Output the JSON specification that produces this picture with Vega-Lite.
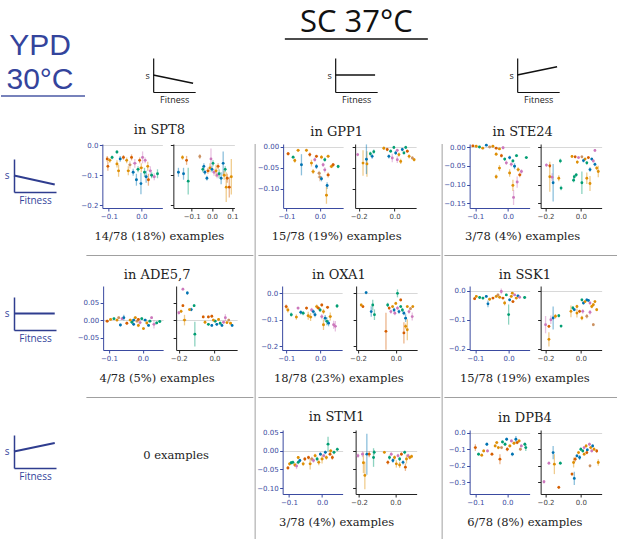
{
  "$schema": "https://vega.github.io/schema/vega-lite/v6.json",
  "padding": 0,
  "background": "white",
  "config": {
    "view": {"stroke": null},
    "axis": {"domainColor": "#3a4aa0", "tickColor": "#3a4aa0", "labelColor": "#3a4aa0", "labelFont": "DejaVu Sans", "labelFontSize": 7, "tickSize": 3, "labelPadding": 1.5, "domainWidth": 1, "tickWidth": 1, "grid": false},
    "axisY": {"grid": true, "gridColor": {"condition": {"test": "datum.value === 0", "value": "#d8d8d8"}, "value": "rgba(0,0,0,0)"}, "gridWidth": 1.2},
    "title": {"font": "DejaVu Serif", "fontSize": 13, "fontWeight": "normal", "color": "#222", "anchor": "middle"}
  },
  "data": {"values": [
    {"p":"S8L","x":-0.105,"y":-0.045,"ey":0.01,"ex":0.004,"c":"r"},
    {"p":"S8L","x":-0.103,"y":-0.07,"ey":0.015,"ex":0.003,"c":"r"},
    {"p":"S8L","x":-0.097,"y":-0.05,"ey":0.008,"ex":0.005,"c":"o"},
    {"p":"S8L","x":-0.09,"y":-0.04,"ey":0.006,"ex":0.004,"c":"g"},
    {"p":"S8L","x":-0.075,"y":-0.022,"ey":0.006,"ex":0.004,"c":"g"},
    {"p":"S8L","x":-0.075,"y":-0.062,"ey":0.012,"ex":0.004,"c":"o"},
    {"p":"S8L","x":-0.07,"y":-0.085,"ey":0.02,"ex":0.004,"c":"o"},
    {"p":"S8L","x":-0.065,"y":-0.045,"ey":0.01,"ex":0.004,"c":"b"},
    {"p":"S8L","x":-0.055,"y":-0.04,"ey":0.008,"ex":0.005,"c":"r"},
    {"p":"S8L","x":-0.045,"y":-0.05,"ey":0.01,"ex":0.004,"c":"o"},
    {"p":"S8L","x":-0.04,"y":-0.085,"ey":0.015,"ex":0.005,"c":"o"},
    {"p":"S8L","x":-0.035,"y":-0.065,"ey":0.012,"ex":0.005,"c":"n"},
    {"p":"S8L","x":-0.03,"y":-0.04,"ey":0.01,"ex":0.004,"c":"r"},
    {"p":"S8L","x":-0.025,"y":-0.09,"ey":0.012,"ex":0.004,"c":"b"},
    {"p":"S8L","x":-0.02,"y":-0.06,"ey":0.015,"ex":0.006,"c":"p"},
    {"p":"S8L","x":-0.015,"y":-0.115,"ey":0.02,"ex":0.004,"c":"b"},
    {"p":"S8L","x":-0.005,"y":-0.05,"ey":0.01,"ex":0.004,"c":"r"},
    {"p":"S8L","x":-0.001,"y":-0.128,"ey":0.036,"ex":0.003,"c":"b"},
    {"p":"S8L","x":0.0,"y":-0.075,"ey":0.015,"ex":0.006,"c":"o"},
    {"p":"S8L","x":0.004,"y":-0.04,"ey":0.02,"ex":0.005,"c":"p"},
    {"p":"S8L","x":0.01,"y":-0.09,"ey":0.015,"ex":0.004,"c":"g"},
    {"p":"S8L","x":0.015,"y":-0.105,"ey":0.02,"ex":0.005,"c":"b"},
    {"p":"S8L","x":0.02,"y":-0.07,"ey":0.015,"ex":0.004,"c":"o"},
    {"p":"S8L","x":0.022,"y":-0.115,"ey":0.02,"ex":0.004,"c":"r"},
    {"p":"S8L","x":0.028,"y":-0.085,"ey":0.015,"ex":0.005,"c":"p"},
    {"p":"S8L","x":0.032,"y":-0.1,"ey":0.01,"ex":0.004,"c":"g"},
    {"p":"S8L","x":0.04,"y":-0.105,"ey":0.012,"ex":0.005,"c":"p"},
    {"p":"S8L","x":0.05,"y":-0.095,"ey":0.015,"ex":0.004,"c":"g"},
    {"p":"S8L","x":-0.01,"y":-0.08,"ey":0.01,"ex":0.005,"c":"g"},
    {"p":"S8L","x":0.012,"y":-0.05,"ey":0.01,"ex":0.004,"c":"p"},

    {"p":"S8R","x":-0.165,"y":-0.09,"ey":0.015,"ex":0.004,"c":"b"},
    {"p":"S8R","x":-0.145,"y":-0.04,"ey":0.008,"ex":0.004,"c":"o"},
    {"p":"S8R","x":-0.14,"y":-0.095,"ey":0.02,"ex":0.004,"c":"b"},
    {"p":"S8R","x":-0.125,"y":-0.05,"ey":0.015,"ex":0.004,"c":"r"},
    {"p":"S8R","x":-0.117,"y":-0.12,"ey":0.045,"ex":0.004,"c":"g"},
    {"p":"S8R","x":-0.06,"y":-0.037,"ey":0.008,"ex":0.004,"c":"n"},
    {"p":"S8R","x":-0.045,"y":-0.08,"ey":0.01,"ex":0.004,"c":"g"},
    {"p":"S8R","x":-0.04,"y":-0.07,"ey":0.01,"ex":0.004,"c":"b"},
    {"p":"S8R","x":-0.035,"y":-0.09,"ey":0.008,"ex":0.004,"c":"b"},
    {"p":"S8R","x":-0.025,"y":-0.11,"ey":0.008,"ex":0.004,"c":"b"},
    {"p":"S8R","x":-0.02,"y":-0.085,"ey":0.01,"ex":0.006,"c":"r"},
    {"p":"S8R","x":-0.01,"y":-0.075,"ey":0.015,"ex":0.004,"c":"o"},
    {"p":"S8R","x":-0.005,"y":-0.045,"ey":0.035,"ex":0.004,"c":"p"},
    {"p":"S8R","x":0.0,"y":-0.08,"ey":0.01,"ex":0.005,"c":"b"},
    {"p":"S8R","x":0.005,"y":-0.06,"ey":0.01,"ex":0.004,"c":"g"},
    {"p":"S8R","x":0.01,"y":-0.09,"ey":0.012,"ex":0.005,"c":"p"},
    {"p":"S8R","x":0.02,"y":-0.085,"ey":0.02,"ex":0.006,"c":"o"},
    {"p":"S8R","x":0.025,"y":-0.1,"ey":0.01,"ex":0.004,"c":"p"},
    {"p":"S8R","x":0.03,"y":-0.07,"ey":0.01,"ex":0.005,"c":"r"},
    {"p":"S8R","x":0.035,"y":-0.095,"ey":0.015,"ex":0.004,"c":"g"},
    {"p":"S8R","x":0.045,"y":-0.11,"ey":0.02,"ex":0.004,"c":"b"},
    {"p":"S8R","x":0.055,"y":-0.06,"ey":0.04,"ex":0.004,"c":"b"},
    {"p":"S8R","x":0.06,"y":-0.1,"ey":0.015,"ex":0.006,"c":"o"},
    {"p":"S8R","x":0.07,"y":-0.14,"ey":0.05,"ex":0.005,"c":"o"},
    {"p":"S8R","x":0.075,"y":-0.11,"ey":0.015,"ex":0.005,"c":"r"},
    {"p":"S8R","x":0.085,"y":-0.14,"ey":0.035,"ex":0.005,"c":"r"},
    {"p":"S8R","x":0.095,"y":-0.105,"ey":0.06,"ex":0.005,"c":"o"},
    {"p":"S8R","x":0.065,"y":-0.08,"ey":0.01,"ex":0.005,"c":"g"},

    {"p":"G1L","x":-0.095,"y":-0.017,"ey":0.004,"ex":0.005,"c":"r"},
    {"p":"G1L","x":-0.08,"y":-0.025,"ey":0.004,"ex":0.004,"c":"g"},
    {"p":"G1L","x":-0.075,"y":-0.033,"ey":0.005,"ex":0.004,"c":"o"},
    {"p":"G1L","x":-0.065,"y":-0.009,"ey":0.004,"ex":0.005,"c":"o"},
    {"p":"G1L","x":-0.055,"y":-0.043,"ey":0.025,"ex":0.003,"c":"b"},
    {"p":"G1L","x":-0.04,"y":-0.009,"ey":0.004,"ex":0.005,"c":"o"},
    {"p":"G1L","x":-0.03,"y":-0.019,"ey":0.005,"ex":0.004,"c":"r"},
    {"p":"G1L","x":-0.025,"y":-0.039,"ey":0.008,"ex":0.004,"c":"o"},
    {"p":"G1L","x":-0.015,"y":-0.031,"ey":0.005,"ex":0.004,"c":"p"},
    {"p":"G1L","x":-0.01,"y":-0.023,"ey":0.004,"ex":0.005,"c":"r"},
    {"p":"G1L","x":0.005,"y":-0.025,"ey":0.005,"ex":0.004,"c":"o"},
    {"p":"G1L","x":0.015,"y":-0.031,"ey":0.005,"ex":0.004,"c":"g"},
    {"p":"G1L","x":0.025,"y":-0.023,"ey":0.004,"ex":0.005,"c":"o"},
    {"p":"G1L","x":-0.01,"y":-0.047,"ey":0.006,"ex":0.004,"c":"b"},
    {"p":"G1L","x":-0.02,"y":-0.059,"ey":0.006,"ex":0.005,"c":"o"},
    {"p":"G1L","x":0.0,"y":-0.072,"ey":0.01,"ex":0.006,"c":"n"},
    {"p":"G1L","x":0.005,"y":-0.076,"ey":0.006,"ex":0.004,"c":"b"},
    {"p":"G1L","x":0.015,"y":-0.055,"ey":0.006,"ex":0.004,"c":"p"},
    {"p":"G1L","x":0.025,"y":-0.067,"ey":0.006,"ex":0.005,"c":"r"},
    {"p":"G1L","x":0.022,"y":-0.092,"ey":0.008,"ex":0.004,"c":"b"},
    {"p":"G1L","x":0.02,"y":-0.115,"ey":0.02,"ex":0.004,"c":"o"},
    {"p":"G1L","x":0.035,"y":-0.047,"ey":0.004,"ex":0.006,"c":"o"},
    {"p":"G1L","x":0.055,"y":-0.047,"ey":0.004,"ex":0.004,"c":"g"},
    {"p":"G1L","x":0.04,"y":-0.043,"ey":0.004,"ex":0.005,"c":"r"},
    {"p":"G1L","x":0.01,"y":-0.043,"ey":0.005,"ex":0.004,"c":"p"},
    {"p":"G1L","x":-0.002,"y":-0.063,"ey":0.006,"ex":0.005,"c":"n"},

    {"p":"G1R","x":-0.206,"y":-0.019,"ey":0.004,"ex":0.004,"c":"p"},
    {"p":"G1R","x":-0.176,"y":-0.039,"ey":0.03,"ex":0.004,"c":"o"},
    {"p":"G1R","x":-0.154,"y":-0.041,"ey":0.03,"ex":0.004,"c":"o"},
    {"p":"G1R","x":-0.157,"y":-0.03,"ey":0.035,"ex":0.003,"c":"b"},
    {"p":"G1R","x":-0.135,"y":-0.017,"ey":0.005,"ex":0.004,"c":"g"},
    {"p":"G1R","x":-0.125,"y":-0.023,"ey":0.006,"ex":0.004,"c":"b"},
    {"p":"G1R","x":-0.116,"y":-0.012,"ey":0.005,"ex":0.004,"c":"g"},
    {"p":"G1R","x":-0.06,"y":-0.004,"ey":0.004,"ex":0.006,"c":"o"},
    {"p":"G1R","x":-0.041,"y":-0.007,"ey":0.004,"ex":0.005,"c":"r"},
    {"p":"G1R","x":-0.022,"y":-0.011,"ey":0.004,"ex":0.005,"c":"g"},
    {"p":"G1R","x":-0.004,"y":-0.002,"ey":0.004,"ex":0.005,"c":"g"},
    {"p":"G1R","x":0.006,"y":-0.015,"ey":0.005,"ex":0.005,"c":"b"},
    {"p":"G1R","x":0.015,"y":-0.009,"ey":0.004,"ex":0.006,"c":"p"},
    {"p":"G1R","x":0.024,"y":-0.019,"ey":0.005,"ex":0.005,"c":"o"},
    {"p":"G1R","x":0.043,"y":-0.007,"ey":0.004,"ex":0.005,"c":"b"},
    {"p":"G1R","x":0.052,"y":-0.015,"ey":0.004,"ex":0.005,"c":"g"},
    {"p":"G1R","x":0.062,"y":-0.002,"ey":0.004,"ex":0.005,"c":"g"},
    {"p":"G1R","x":0.071,"y":-0.011,"ey":0.004,"ex":0.006,"c":"r"},
    {"p":"G1R","x":0.081,"y":-0.023,"ey":0.005,"ex":0.005,"c":"o"},
    {"p":"G1R","x":0.099,"y":-0.027,"ey":0.004,"ex":0.006,"c":"n"},
    {"p":"G1R","x":0.109,"y":-0.031,"ey":0.004,"ex":0.005,"c":"o"},
    {"p":"G1R","x":-0.013,"y":-0.027,"ey":0.01,"ex":0.005,"c":"p"},
    {"p":"G1R","x":-0.032,"y":-0.023,"ey":0.005,"ex":0.005,"c":"b"},
    {"p":"G1R","x":0.034,"y":-0.035,"ey":0.006,"ex":0.006,"c":"o"},
    {"p":"G1R","x":0.015,"y":-0.031,"ey":0.008,"ex":0.005,"c":"p"},

    {"p":"S24L","x":-0.107,"y":0.003,"ey":0.003,"ex":0.004,"c":"r"},
    {"p":"S24L","x":-0.097,"y":0.002,"ey":0.003,"ex":0.004,"c":"o"},
    {"p":"S24L","x":-0.087,"y":0.0,"ey":0.003,"ex":0.004,"c":"g"},
    {"p":"S24L","x":-0.077,"y":-0.003,"ey":0.003,"ex":0.004,"c":"o"},
    {"p":"S24L","x":-0.066,"y":0.005,"ey":0.003,"ex":0.004,"c":"b"},
    {"p":"S24L","x":-0.056,"y":0.0,"ey":0.003,"ex":0.005,"c":"n"},
    {"p":"S24L","x":-0.046,"y":0.002,"ey":0.003,"ex":0.004,"c":"o"},
    {"p":"S24L","x":-0.036,"y":-0.003,"ey":0.003,"ex":0.004,"c":"r"},
    {"p":"S24L","x":-0.026,"y":-0.005,"ey":0.003,"ex":0.005,"c":"o"},
    {"p":"S24L","x":-0.015,"y":-0.002,"ey":0.004,"ex":0.004,"c":"p"},
    {"p":"S24L","x":-0.036,"y":-0.019,"ey":0.005,"ex":0.004,"c":"o"},
    {"p":"S24L","x":-0.02,"y":-0.023,"ey":0.005,"ex":0.004,"c":"r"},
    {"p":"S24L","x":-0.01,"y":-0.032,"ey":0.005,"ex":0.004,"c":"g"},
    {"p":"S24L","x":0.005,"y":-0.028,"ey":0.005,"ex":0.004,"c":"b"},
    {"p":"S24L","x":0.015,"y":-0.037,"ey":0.005,"ex":0.004,"c":"g"},
    {"p":"S24L","x":0.026,"y":-0.023,"ey":0.004,"ex":0.005,"c":"g"},
    {"p":"S24L","x":0.056,"y":-0.028,"ey":0.004,"ex":0.005,"c":"g"},
    {"p":"S24L","x":0.02,"y":-0.051,"ey":0.008,"ex":0.004,"c":"b"},
    {"p":"S24L","x":0.01,"y":-0.046,"ey":0.006,"ex":0.004,"c":"p"},
    {"p":"S24L","x":-0.005,"y":-0.042,"ey":0.006,"ex":0.004,"c":"p"},
    {"p":"S24L","x":-0.026,"y":-0.056,"ey":0.008,"ex":0.004,"c":"o"},
    {"p":"S24L","x":-0.036,"y":-0.079,"ey":0.006,"ex":0.004,"c":"o"},
    {"p":"S24L","x":0.005,"y":-0.069,"ey":0.01,"ex":0.004,"c":"o"},
    {"p":"S24L","x":0.015,"y":-0.102,"ey":0.015,"ex":0.004,"c":"o"},
    {"p":"S24L","x":0.017,"y":-0.134,"ey":0.02,"ex":0.004,"c":"p"},
    {"p":"S24L","x":0.028,"y":-0.093,"ey":0.015,"ex":0.004,"c":"p"},
    {"p":"S24L","x":0.036,"y":-0.074,"ey":0.006,"ex":0.005,"c":"r"},
    {"p":"S24L","x":0.041,"y":-0.065,"ey":0.006,"ex":0.005,"c":"p"},
    {"p":"S24L","x":0.031,"y":-0.06,"ey":0.006,"ex":0.005,"c":"o"},

    {"p":"S24R","x":-0.195,"y":-0.048,"ey":0.005,"ex":0.004,"c":"p"},
    {"p":"S24R","x":-0.176,"y":-0.079,"ey":0.04,"ex":0.004,"c":"o"},
    {"p":"S24R","x":-0.176,"y":-0.05,"ey":0.005,"ex":0.004,"c":"r"},
    {"p":"S24R","x":-0.163,"y":-0.08,"ey":0.01,"ex":0.004,"c":"p"},
    {"p":"S24R","x":-0.157,"y":-0.095,"ey":0.05,"ex":0.003,"c":"b"},
    {"p":"S24R","x":-0.125,"y":-0.083,"ey":0.008,"ex":0.004,"c":"o"},
    {"p":"S24R","x":-0.116,"y":-0.037,"ey":0.006,"ex":0.004,"c":"g"},
    {"p":"S24R","x":-0.112,"y":-0.109,"ey":0.006,"ex":0.004,"c":"g"},
    {"p":"S24R","x":-0.041,"y":-0.088,"ey":0.006,"ex":0.005,"c":"g"},
    {"p":"S24R","x":-0.037,"y":-0.079,"ey":0.005,"ex":0.005,"c":"g"},
    {"p":"S24R","x":0.006,"y":-0.095,"ey":0.03,"ex":0.004,"c":"g"},
    {"p":"S24R","x":-0.026,"y":-0.074,"ey":0.005,"ex":0.005,"c":"g"},
    {"p":"S24R","x":-0.05,"y":-0.025,"ey":0.004,"ex":0.006,"c":"o"},
    {"p":"S24R","x":-0.032,"y":-0.026,"ey":0.004,"ex":0.005,"c":"r"},
    {"p":"S24R","x":-0.013,"y":-0.028,"ey":0.004,"ex":0.005,"c":"p"},
    {"p":"S24R","x":0.006,"y":-0.026,"ey":0.004,"ex":0.005,"c":"n"},
    {"p":"S24R","x":0.024,"y":-0.032,"ey":0.004,"ex":0.006,"c":"o"},
    {"p":"S24R","x":0.043,"y":-0.028,"ey":0.004,"ex":0.005,"c":"r"},
    {"p":"S24R","x":0.062,"y":-0.032,"ey":0.004,"ex":0.005,"c":"b"},
    {"p":"S24R","x":0.071,"y":-0.037,"ey":0.005,"ex":0.005,"c":"p"},
    {"p":"S24R","x":0.08,"y":-0.046,"ey":0.005,"ex":0.005,"c":"b"},
    {"p":"S24R","x":0.09,"y":-0.056,"ey":0.006,"ex":0.005,"c":"o"},
    {"p":"S24R","x":0.099,"y":-0.065,"ey":0.015,"ex":0.005,"c":"o"},
    {"p":"S24R","x":0.052,"y":-0.06,"ey":0.006,"ex":0.005,"c":"b"},
    {"p":"S24R","x":0.034,"y":-0.042,"ey":0.005,"ex":0.005,"c":"g"},
    {"p":"S24R","x":0.08,"y":-0.009,"ey":0.004,"ex":0.005,"c":"p"},
    {"p":"S24R","x":0.052,"y":-0.097,"ey":0.02,"ex":0.005,"c":"o"},
    {"p":"S24R","x":0.034,"y":-0.083,"ey":0.015,"ex":0.005,"c":"o"},
    {"p":"S24R","x":0.015,"y":-0.036,"ey":0.005,"ex":0.005,"c":"b"},
    {"p":"S24R","x":-0.02,"y":-0.04,"ey":0.005,"ex":0.005,"c":"o"},

    {"p":"A5L","x":-0.105,"y":-0.003,"ey":0.004,"ex":0.005,"c":"r"},
    {"p":"A5L","x":-0.095,"y":0.002,"ey":0.003,"ex":0.004,"c":"o"},
    {"p":"A5L","x":-0.085,"y":0.004,"ey":0.003,"ex":0.004,"c":"g"},
    {"p":"A5L","x":-0.076,"y":0.0,"ey":0.004,"ex":0.004,"c":"o"},
    {"p":"A5L","x":-0.071,"y":0.007,"ey":0.003,"ex":0.004,"c":"n"},
    {"p":"A5L","x":-0.066,"y":-0.014,"ey":0.004,"ex":0.004,"c":"b"},
    {"p":"A5L","x":-0.061,"y":0.004,"ey":0.003,"ex":0.004,"c":"p"},
    {"p":"A5L","x":-0.056,"y":0.007,"ey":0.008,"ex":0.004,"c":"b"},
    {"p":"A5L","x":-0.047,"y":-0.009,"ey":0.004,"ex":0.004,"c":"r"},
    {"p":"A5L","x":-0.037,"y":0.0,"ey":0.004,"ex":0.005,"c":"o"},
    {"p":"A5L","x":-0.032,"y":-0.006,"ey":0.004,"ex":0.004,"c":"g"},
    {"p":"A5L","x":-0.027,"y":-0.012,"ey":0.004,"ex":0.004,"c":"b"},
    {"p":"A5L","x":-0.022,"y":0.007,"ey":0.004,"ex":0.005,"c":"o"},
    {"p":"A5L","x":-0.017,"y":-0.003,"ey":0.004,"ex":0.004,"c":"n"},
    {"p":"A5L","x":-0.013,"y":0.002,"ey":0.004,"ex":0.004,"c":"r"},
    {"p":"A5L","x":-0.008,"y":-0.007,"ey":0.005,"ex":0.004,"c":"p"},
    {"p":"A5L","x":-0.003,"y":0.004,"ey":0.004,"ex":0.004,"c":"g"},
    {"p":"A5L","x":0.002,"y":-0.024,"ey":0.004,"ex":0.004,"c":"o"},
    {"p":"A5L","x":0.007,"y":0.0,"ey":0.004,"ex":0.005,"c":"b"},
    {"p":"A5L","x":0.012,"y":-0.008,"ey":0.005,"ex":0.004,"c":"o"},
    {"p":"A5L","x":0.017,"y":-0.015,"ey":0.004,"ex":0.004,"c":"b"},
    {"p":"A5L","x":0.021,"y":-0.003,"ey":0.004,"ex":0.005,"c":"g"},
    {"p":"A5L","x":0.026,"y":0.007,"ey":0.004,"ex":0.004,"c":"p"},
    {"p":"A5L","x":0.033,"y":-0.012,"ey":0.012,"ex":0.004,"c":"p"},
    {"p":"A5L","x":0.041,"y":-0.008,"ey":0.004,"ex":0.004,"c":"g"},
    {"p":"A5L","x":0.05,"y":-0.004,"ey":0.004,"ex":0.005,"c":"g"},
    {"p":"A5L","x":-0.013,"y":-0.015,"ey":0.005,"ex":0.004,"c":"o"},
    {"p":"A5L","x":-0.027,"y":0.0,"ey":0.004,"ex":0.005,"c":"b"},

    {"p":"A5R","x":-0.177,"y":0.088,"ey":0.004,"ex":0.004,"c":"p"},
    {"p":"A5R","x":-0.152,"y":0.077,"ey":0.005,"ex":0.004,"c":"b"},
    {"p":"A5R","x":-0.177,"y":0.041,"ey":0.004,"ex":0.004,"c":"r"},
    {"p":"A5R","x":-0.187,"y":0.025,"ey":0.005,"ex":0.004,"c":"o"},
    {"p":"A5R","x":-0.2,"y":0.021,"ey":0.005,"ex":0.004,"c":"p"},
    {"p":"A5R","x":-0.114,"y":0.041,"ey":0.004,"ex":0.004,"c":"g"},
    {"p":"A5R","x":-0.13,"y":0.03,"ey":0.005,"ex":0.004,"c":"b"},
    {"p":"A5R","x":-0.14,"y":0.03,"ey":0.004,"ex":0.004,"c":"o"},
    {"p":"A5R","x":-0.168,"y":0.0,"ey":0.015,"ex":0.01,"c":"o"},
    {"p":"A5R","x":-0.11,"y":-0.04,"ey":0.035,"ex":0.003,"c":"g"},
    {"p":"A5R","x":-0.053,"y":-0.006,"ey":0.004,"ex":0.005,"c":"o"},
    {"p":"A5R","x":-0.063,"y":0.009,"ey":0.004,"ex":0.005,"c":"r"},
    {"p":"A5R","x":-0.034,"y":0.009,"ey":0.004,"ex":0.005,"c":"r"},
    {"p":"A5R","x":-0.015,"y":0.011,"ey":0.004,"ex":0.005,"c":"r"},
    {"p":"A5R","x":-0.034,"y":-0.012,"ey":0.004,"ex":0.005,"c":"g"},
    {"p":"A5R","x":-0.015,"y":-0.015,"ey":0.004,"ex":0.005,"c":"b"},
    {"p":"A5R","x":0.004,"y":-0.003,"ey":0.004,"ex":0.005,"c":"g"},
    {"p":"A5R","x":0.013,"y":-0.012,"ey":0.004,"ex":0.005,"c":"b"},
    {"p":"A5R","x":0.023,"y":0.002,"ey":0.004,"ex":0.005,"c":"o"},
    {"p":"A5R","x":0.032,"y":-0.009,"ey":0.004,"ex":0.005,"c":"g"},
    {"p":"A5R","x":0.042,"y":-0.015,"ey":0.004,"ex":0.005,"c":"b"},
    {"p":"A5R","x":0.051,"y":-0.006,"ey":0.004,"ex":0.005,"c":"p"},
    {"p":"A5R","x":0.061,"y":0.007,"ey":0.01,"ex":0.005,"c":"p"},
    {"p":"A5R","x":0.07,"y":-0.007,"ey":0.004,"ex":0.005,"c":"o"},
    {"p":"A5R","x":0.08,"y":0.0,"ey":0.004,"ex":0.005,"c":"n"},
    {"p":"A5R","x":0.09,"y":-0.009,"ey":0.004,"ex":0.005,"c":"o"},
    {"p":"A5R","x":0.099,"y":-0.015,"ey":0.004,"ex":0.005,"c":"b"},
    {"p":"A5R","x":-0.006,"y":0.0,"ey":0.004,"ex":0.005,"c":"o"},

    {"p":"O1L","x":-0.1,"y":-0.05,"ey":0.008,"ex":0.004,"c":"r"},
    {"p":"O1L","x":-0.095,"y":-0.063,"ey":0.01,"ex":0.004,"c":"o"},
    {"p":"O1L","x":-0.085,"y":-0.081,"ey":0.008,"ex":0.004,"c":"g"},
    {"p":"O1L","x":-0.07,"y":-0.09,"ey":0.01,"ex":0.004,"c":"o"},
    {"p":"O1L","x":-0.065,"y":-0.056,"ey":0.006,"ex":0.004,"c":"p"},
    {"p":"O1L","x":-0.057,"y":-0.072,"ey":0.008,"ex":0.004,"c":"b"},
    {"p":"O1L","x":-0.05,"y":-0.075,"ey":0.008,"ex":0.004,"c":"g"},
    {"p":"O1L","x":-0.04,"y":-0.056,"ey":0.006,"ex":0.004,"c":"r"},
    {"p":"O1L","x":-0.035,"y":-0.085,"ey":0.015,"ex":0.005,"c":"o"},
    {"p":"O1L","x":-0.028,"y":-0.09,"ey":0.015,"ex":0.005,"c":"o"},
    {"p":"O1L","x":-0.025,"y":-0.063,"ey":0.008,"ex":0.004,"c":"p"},
    {"p":"O1L","x":-0.02,"y":-0.069,"ey":0.008,"ex":0.004,"c":"b"},
    {"p":"O1L","x":-0.015,"y":-0.081,"ey":0.01,"ex":0.004,"c":"b"},
    {"p":"O1L","x":-0.01,"y":-0.05,"ey":0.008,"ex":0.005,"c":"o"},
    {"p":"O1L","x":-0.005,"y":-0.056,"ey":0.006,"ex":0.004,"c":"r"},
    {"p":"O1L","x":0.0,"y":-0.063,"ey":0.008,"ex":0.004,"c":"g"},
    {"p":"O1L","x":0.005,"y":-0.044,"ey":0.006,"ex":0.004,"c":"r"},
    {"p":"O1L","x":0.01,"y":-0.069,"ey":0.01,"ex":0.005,"c":"o"},
    {"p":"O1L","x":0.005,"y":-0.088,"ey":0.01,"ex":0.004,"c":"p"},
    {"p":"O1L","x":0.01,"y":-0.119,"ey":0.02,"ex":0.004,"c":"o"},
    {"p":"O1L","x":0.015,"y":-0.094,"ey":0.012,"ex":0.004,"c":"b"},
    {"p":"O1L","x":0.02,"y":-0.106,"ey":0.015,"ex":0.004,"c":"g"},
    {"p":"O1L","x":0.025,"y":-0.113,"ey":0.012,"ex":0.004,"c":"b"},
    {"p":"O1L","x":0.03,"y":-0.088,"ey":0.015,"ex":0.005,"c":"o"},
    {"p":"O1L","x":0.04,"y":-0.119,"ey":0.015,"ex":0.004,"c":"p"},
    {"p":"O1L","x":0.045,"y":-0.125,"ey":0.02,"ex":0.004,"c":"p"},
    {"p":"O1L","x":0.05,"y":-0.048,"ey":0.008,"ex":0.004,"c":"g"},
    {"p":"O1L","x":0.022,"y":-0.053,"ey":0.006,"ex":0.005,"c":"r"},

    {"p":"O1R","x":-0.157,"y":0.003,"ey":0.006,"ex":0.004,"c":"b"},
    {"p":"O1R","x":-0.174,"y":-0.05,"ey":0.006,"ex":0.004,"c":"r"},
    {"p":"O1R","x":-0.183,"y":-0.044,"ey":0.005,"ex":0.004,"c":"o"},
    {"p":"O1R","x":-0.13,"y":-0.069,"ey":0.02,"ex":0.004,"c":"b"},
    {"p":"O1R","x":-0.122,"y":-0.044,"ey":0.02,"ex":0.004,"c":"g"},
    {"p":"O1R","x":-0.113,"y":-0.081,"ey":0.02,"ex":0.004,"c":"g"},
    {"p":"O1R","x":-0.052,"y":-0.144,"ey":0.07,"ex":0.004,"c":"r"},
    {"p":"O1R","x":-0.043,"y":-0.044,"ey":0.008,"ex":0.004,"c":"g"},
    {"p":"O1R","x":0.009,"y":0.0,"ey":0.015,"ex":0.004,"c":"g"},
    {"p":"O1R","x":-0.035,"y":-0.056,"ey":0.006,"ex":0.005,"c":"r"},
    {"p":"O1R","x":-0.026,"y":-0.069,"ey":0.008,"ex":0.005,"c":"p"},
    {"p":"O1R","x":-0.017,"y":-0.05,"ey":0.006,"ex":0.005,"c":"o"},
    {"p":"O1R","x":-0.009,"y":-0.063,"ey":0.008,"ex":0.005,"c":"b"},
    {"p":"O1R","x":0.0,"y":-0.038,"ey":0.006,"ex":0.005,"c":"o"},
    {"p":"O1R","x":0.009,"y":-0.056,"ey":0.008,"ex":0.005,"c":"p"},
    {"p":"O1R","x":0.017,"y":-0.069,"ey":0.008,"ex":0.005,"c":"b"},
    {"p":"O1R","x":0.026,"y":-0.05,"ey":0.006,"ex":0.005,"c":"g"},
    {"p":"O1R","x":0.035,"y":-0.063,"ey":0.008,"ex":0.005,"c":"g"},
    {"p":"O1R","x":0.043,"y":-0.075,"ey":0.008,"ex":0.005,"c":"b"},
    {"p":"O1R","x":0.052,"y":-0.094,"ey":0.015,"ex":0.005,"c":"b"},
    {"p":"O1R","x":0.061,"y":-0.05,"ey":0.006,"ex":0.005,"c":"o"},
    {"p":"O1R","x":0.07,"y":-0.069,"ey":0.008,"ex":0.005,"c":"p"},
    {"p":"O1R","x":0.087,"y":-0.088,"ey":0.015,"ex":0.005,"c":"p"},
    {"p":"O1R","x":0.09,"y":-0.05,"ey":0.006,"ex":0.005,"c":"o"},
    {"p":"O1R","x":0.043,"y":-0.15,"ey":0.04,"ex":0.004,"c":"r"},
    {"p":"O1R","x":0.061,"y":-0.138,"ey":0.04,"ex":0.004,"c":"o"},
    {"p":"O1R","x":0.052,"y":-0.125,"ey":0.01,"ex":0.004,"c":"o"},
    {"p":"O1R","x":0.026,"y":-0.025,"ey":0.006,"ex":0.005,"c":"r"},
    {"p":"O1R","x":0.078,"y":-0.058,"ey":0.006,"ex":0.005,"c":"n"},
    {"p":"O1R","x":-0.005,"y":-0.075,"ey":0.008,"ex":0.005,"c":"p"},

    {"p":"K1L","x":-0.102,"y":-0.027,"ey":0.005,"ex":0.004,"c":"r"},
    {"p":"K1L","x":-0.097,"y":-0.019,"ey":0.004,"ex":0.004,"c":"o"},
    {"p":"K1L","x":-0.087,"y":-0.023,"ey":0.004,"ex":0.004,"c":"g"},
    {"p":"K1L","x":-0.077,"y":-0.025,"ey":0.005,"ex":0.004,"c":"g"},
    {"p":"K1L","x":-0.067,"y":-0.019,"ey":0.004,"ex":0.004,"c":"b"},
    {"p":"K1L","x":-0.062,"y":-0.045,"ey":0.012,"ex":0.003,"c":"b"},
    {"p":"K1L","x":-0.057,"y":-0.029,"ey":0.005,"ex":0.004,"c":"o"},
    {"p":"K1L","x":-0.047,"y":-0.025,"ey":0.004,"ex":0.004,"c":"r"},
    {"p":"K1L","x":-0.037,"y":-0.019,"ey":0.004,"ex":0.005,"c":"o"},
    {"p":"K1L","x":-0.032,"y":-0.014,"ey":0.004,"ex":0.004,"c":"n"},
    {"p":"K1L","x":-0.027,"y":-0.022,"ey":0.004,"ex":0.005,"c":"o"},
    {"p":"K1L","x":-0.022,"y":-0.002,"ey":0.01,"ex":0.004,"c":"p"},
    {"p":"K1L","x":-0.017,"y":-0.025,"ey":0.004,"ex":0.004,"c":"r"},
    {"p":"K1L","x":-0.012,"y":-0.042,"ey":0.008,"ex":0.004,"c":"o"},
    {"p":"K1L","x":-0.007,"y":-0.014,"ey":0.004,"ex":0.004,"c":"g"},
    {"p":"K1L","x":0.0,"y":-0.082,"ey":0.035,"ex":0.003,"c":"g"},
    {"p":"K1L","x":0.003,"y":-0.031,"ey":0.005,"ex":0.004,"c":"b"},
    {"p":"K1L","x":0.008,"y":-0.019,"ey":0.004,"ex":0.005,"c":"o"},
    {"p":"K1L","x":0.013,"y":-0.037,"ey":0.005,"ex":0.004,"c":"r"},
    {"p":"K1L","x":0.018,"y":-0.014,"ey":0.004,"ex":0.004,"c":"p"},
    {"p":"K1L","x":0.023,"y":-0.025,"ey":0.004,"ex":0.005,"c":"o"},
    {"p":"K1L","x":0.028,"y":-0.017,"ey":0.004,"ex":0.004,"c":"b"},
    {"p":"K1L","x":0.033,"y":-0.022,"ey":0.004,"ex":0.004,"c":"p"},
    {"p":"K1L","x":0.048,"y":-0.023,"ey":0.004,"ex":0.005,"c":"g"},
    {"p":"K1L","x":0.011,"y":-0.008,"ey":0.004,"ex":0.004,"c":"o"},

    {"p":"K1R","x":-0.2,"y":-0.117,"ey":0.03,"ex":0.004,"c":"p"},
    {"p":"K1R","x":-0.181,"y":-0.123,"ey":0.006,"ex":0.004,"c":"r"},
    {"p":"K1R","x":-0.181,"y":-0.168,"ey":0.025,"ex":0.004,"c":"o"},
    {"p":"K1R","x":-0.157,"y":-0.094,"ey":0.04,"ex":0.003,"c":"b"},
    {"p":"K1R","x":-0.144,"y":-0.088,"ey":0.008,"ex":0.004,"c":"o"},
    {"p":"K1R","x":-0.125,"y":-0.086,"ey":0.006,"ex":0.004,"c":"g"},
    {"p":"K1R","x":-0.112,"y":-0.122,"ey":0.005,"ex":0.004,"c":"g"},
    {"p":"K1R","x":-0.17,"y":-0.1,"ey":0.015,"ex":0.004,"c":"p"},
    {"p":"K1R","x":-0.056,"y":-0.071,"ey":0.02,"ex":0.005,"c":"o"},
    {"p":"K1R","x":-0.045,"y":-0.059,"ey":0.006,"ex":0.005,"c":"g"},
    {"p":"K1R","x":-0.037,"y":-0.065,"ey":0.006,"ex":0.005,"c":"b"},
    {"p":"K1R","x":-0.022,"y":-0.054,"ey":0.006,"ex":0.005,"c":"o"},
    {"p":"K1R","x":-0.007,"y":-0.071,"ey":0.006,"ex":0.005,"c":"r"},
    {"p":"K1R","x":0.006,"y":-0.031,"ey":0.005,"ex":0.005,"c":"g"},
    {"p":"K1R","x":0.015,"y":-0.042,"ey":0.005,"ex":0.005,"c":"b"},
    {"p":"K1R","x":0.024,"y":-0.037,"ey":0.005,"ex":0.005,"c":"o"},
    {"p":"K1R","x":0.034,"y":-0.031,"ey":0.005,"ex":0.005,"c":"b"},
    {"p":"K1R","x":0.043,"y":-0.033,"ey":0.005,"ex":0.005,"c":"b"},
    {"p":"K1R","x":0.052,"y":-0.042,"ey":0.005,"ex":0.005,"c":"p"},
    {"p":"K1R","x":0.062,"y":-0.054,"ey":0.006,"ex":0.005,"c":"o"},
    {"p":"K1R","x":0.071,"y":-0.048,"ey":0.006,"ex":0.005,"c":"o"},
    {"p":"K1R","x":0.08,"y":-0.037,"ey":0.005,"ex":0.005,"c":"o"},
    {"p":"K1R","x":0.09,"y":-0.065,"ey":0.006,"ex":0.005,"c":"o"},
    {"p":"K1R","x":-0.022,"y":-0.077,"ey":0.015,"ex":0.005,"c":"o"},
    {"p":"K1R","x":0.006,"y":-0.094,"ey":0.008,"ex":0.005,"c":"o"},
    {"p":"K1R","x":0.034,"y":-0.088,"ey":0.008,"ex":0.005,"c":"n"},
    {"p":"K1R","x":0.052,"y":-0.074,"ey":0.008,"ex":0.005,"c":"p"},
    {"p":"K1R","x":0.071,"y":-0.117,"ey":0.006,"ex":0.005,"c":"n"},
    {"p":"K1R","x":0.011,"y":-0.071,"ey":0.008,"ex":0.005,"c":"p"},

    {"p":"M1L","x":-0.103,"y":-0.046,"ey":0.005,"ex":0.004,"c":"r"},
    {"p":"M1L","x":-0.098,"y":-0.035,"ey":0.005,"ex":0.004,"c":"o"},
    {"p":"M1L","x":-0.093,"y":-0.032,"ey":0.005,"ex":0.004,"c":"g"},
    {"p":"M1L","x":-0.088,"y":-0.031,"ey":0.005,"ex":0.004,"c":"g"},
    {"p":"M1L","x":-0.082,"y":-0.038,"ey":0.005,"ex":0.004,"c":"o"},
    {"p":"M1L","x":-0.077,"y":-0.041,"ey":0.008,"ex":0.004,"c":"p"},
    {"p":"M1L","x":-0.072,"y":-0.031,"ey":0.005,"ex":0.004,"c":"g"},
    {"p":"M1L","x":-0.067,"y":-0.026,"ey":0.005,"ex":0.004,"c":"b"},
    {"p":"M1L","x":-0.072,"y":-0.018,"ey":0.004,"ex":0.004,"c":"o"},
    {"p":"M1L","x":-0.057,"y":-0.035,"ey":0.006,"ex":0.004,"c":"o"},
    {"p":"M1L","x":-0.052,"y":-0.022,"ey":0.005,"ex":0.004,"c":"r"},
    {"p":"M1L","x":-0.041,"y":-0.018,"ey":0.005,"ex":0.004,"c":"r"},
    {"p":"M1L","x":-0.036,"y":-0.035,"ey":0.015,"ex":0.004,"c":"o"},
    {"p":"M1L","x":-0.031,"y":-0.022,"ey":0.006,"ex":0.004,"c":"n"},
    {"p":"M1L","x":-0.026,"y":-0.026,"ey":0.006,"ex":0.004,"c":"p"},
    {"p":"M1L","x":-0.021,"y":-0.013,"ey":0.005,"ex":0.004,"c":"o"},
    {"p":"M1L","x":-0.015,"y":-0.022,"ey":0.006,"ex":0.004,"c":"g"},
    {"p":"M1L","x":-0.01,"y":-0.031,"ey":0.008,"ex":0.004,"c":"o"},
    {"p":"M1L","x":-0.005,"y":-0.009,"ey":0.005,"ex":0.004,"c":"b"},
    {"p":"M1L","x":0.0,"y":-0.022,"ey":0.012,"ex":0.005,"c":"o"},
    {"p":"M1L","x":0.005,"y":-0.013,"ey":0.005,"ex":0.004,"c":"p"},
    {"p":"M1L","x":0.01,"y":-0.004,"ey":0.005,"ex":0.004,"c":"b"},
    {"p":"M1L","x":0.018,"y":0.018,"ey":0.02,"ex":0.004,"c":"g"},
    {"p":"M1L","x":0.024,"y":-0.009,"ey":0.005,"ex":0.004,"c":"r"},
    {"p":"M1L","x":0.026,"y":0.0,"ey":0.005,"ex":0.005,"c":"o"},
    {"p":"M1L","x":0.031,"y":-0.018,"ey":0.006,"ex":0.004,"c":"r"},
    {"p":"M1L","x":0.036,"y":-0.004,"ey":0.005,"ex":0.004,"c":"g"},
    {"p":"M1L","x":0.046,"y":0.004,"ey":0.005,"ex":0.004,"c":"g"},
    {"p":"M1L","x":0.013,"y":-0.018,"ey":0.006,"ex":0.005,"c":"o"},

    {"p":"M1R","x":-0.206,"y":-0.013,"ey":0.006,"ex":0.004,"c":"p"},
    {"p":"M1R","x":-0.176,"y":-0.032,"ey":0.028,"ex":0.004,"c":"o"},
    {"p":"M1R","x":-0.168,"y":-0.066,"ey":0.037,"ex":0.004,"c":"o"},
    {"p":"M1R","x":-0.157,"y":-0.009,"ey":0.055,"ex":0.003,"c":"b"},
    {"p":"M1R","x":-0.181,"y":-0.009,"ey":0.008,"ex":0.004,"c":"p"},
    {"p":"M1R","x":-0.144,"y":-0.009,"ey":0.008,"ex":0.004,"c":"r"},
    {"p":"M1R","x":-0.12,"y":-0.018,"ey":0.025,"ex":0.004,"c":"g"},
    {"p":"M1R","x":-0.116,"y":-0.004,"ey":0.006,"ex":0.004,"c":"g"},
    {"p":"M1R","x":-0.06,"y":-0.004,"ey":0.004,"ex":0.005,"c":"o"},
    {"p":"M1R","x":-0.041,"y":-0.031,"ey":0.006,"ex":0.005,"c":"r"},
    {"p":"M1R","x":-0.032,"y":-0.018,"ey":0.006,"ex":0.005,"c":"g"},
    {"p":"M1R","x":-0.022,"y":-0.009,"ey":0.005,"ex":0.005,"c":"p"},
    {"p":"M1R","x":-0.013,"y":-0.026,"ey":0.006,"ex":0.005,"c":"b"},
    {"p":"M1R","x":-0.004,"y":-0.018,"ey":0.006,"ex":0.005,"c":"o"},
    {"p":"M1R","x":0.006,"y":-0.035,"ey":0.01,"ex":0.005,"c":"o"},
    {"p":"M1R","x":0.015,"y":-0.013,"ey":0.005,"ex":0.005,"c":"p"},
    {"p":"M1R","x":0.024,"y":-0.022,"ey":0.006,"ex":0.005,"c":"g"},
    {"p":"M1R","x":0.034,"y":-0.009,"ey":0.005,"ex":0.005,"c":"r"},
    {"p":"M1R","x":0.043,"y":-0.031,"ey":0.006,"ex":0.005,"c":"b"},
    {"p":"M1R","x":0.052,"y":-0.004,"ey":0.005,"ex":0.005,"c":"g"},
    {"p":"M1R","x":0.062,"y":-0.022,"ey":0.012,"ex":0.005,"c":"o"},
    {"p":"M1R","x":0.071,"y":-0.013,"ey":0.005,"ex":0.005,"c":"p"},
    {"p":"M1R","x":0.08,"y":-0.018,"ey":0.005,"ex":0.005,"c":"o"},
    {"p":"M1R","x":0.09,"y":-0.015,"ey":0.005,"ex":0.006,"c":"o"},
    {"p":"M1R","x":0.056,"y":-0.044,"ey":0.01,"ex":0.005,"c":"r"},
    {"p":"M1R","x":0.024,"y":-0.038,"ey":0.008,"ex":0.005,"c":"o"},

    {"p":"D4L","x":-0.1,"y":-0.09,"ey":0.02,"ex":0.005,"c":"r"},
    {"p":"D4L","x":-0.09,"y":-0.13,"ey":0.01,"ex":0.004,"c":"g"},
    {"p":"D4L","x":-0.08,"y":-0.136,"ey":0.01,"ex":0.004,"c":"o"},
    {"p":"D4L","x":-0.074,"y":-0.11,"ey":0.01,"ex":0.004,"c":"o"},
    {"p":"D4L","x":-0.064,"y":-0.07,"ey":0.01,"ex":0.004,"c":"b"},
    {"p":"D4L","x":-0.062,"y":-0.11,"ey":0.01,"ex":0.004,"c":"p"},
    {"p":"D4L","x":-0.048,"y":-0.13,"ey":0.01,"ex":0.004,"c":"r"},
    {"p":"D4L","x":-0.038,"y":-0.08,"ey":0.01,"ex":0.004,"c":"o"},
    {"p":"D4L","x":-0.033,"y":-0.06,"ey":0.01,"ex":0.005,"c":"o"},
    {"p":"D4L","x":-0.028,"y":-0.09,"ey":0.01,"ex":0.004,"c":"o"},
    {"p":"D4L","x":-0.023,"y":-0.16,"ey":0.03,"ex":0.004,"c":"r"},
    {"p":"D4L","x":-0.018,"y":-0.09,"ey":0.01,"ex":0.004,"c":"n"},
    {"p":"D4L","x":-0.015,"y":-0.056,"ey":0.01,"ex":0.004,"c":"g"},
    {"p":"D4L","x":-0.007,"y":-0.07,"ey":0.01,"ex":0.004,"c":"g"},
    {"p":"D4L","x":-0.002,"y":-0.04,"ey":0.01,"ex":0.004,"c":"b"},
    {"p":"D4L","x":0.0,"y":-0.1,"ey":0.012,"ex":0.004,"c":"r"},
    {"p":"D4L","x":0.008,"y":-0.08,"ey":0.01,"ex":0.005,"c":"o"},
    {"p":"D4L","x":0.013,"y":-0.05,"ey":0.01,"ex":0.004,"c":"p"},
    {"p":"D4L","x":0.016,"y":-0.13,"ey":0.012,"ex":0.004,"c":"b"},
    {"p":"D4L","x":0.021,"y":-0.064,"ey":0.01,"ex":0.005,"c":"o"},
    {"p":"D4L","x":0.027,"y":-0.04,"ey":0.02,"ex":0.004,"c":"b"},
    {"p":"D4L","x":0.031,"y":-0.06,"ey":0.01,"ex":0.004,"c":"r"},
    {"p":"D4L","x":0.037,"y":-0.05,"ey":0.01,"ex":0.005,"c":"o"},
    {"p":"D4L","x":0.044,"y":-0.08,"ey":0.01,"ex":0.004,"c":"p"},
    {"p":"D4L","x":0.055,"y":-0.07,"ey":0.01,"ex":0.004,"c":"g"},
    {"p":"D4L","x":0.058,"y":-0.09,"ey":0.02,"ex":0.004,"c":"g"},
    {"p":"D4L","x":0.041,"y":-0.1,"ey":0.01,"ex":0.004,"c":"n"},

    {"p":"D4R","x":-0.209,"y":-0.296,"ey":0.01,"ex":0.004,"c":"p"},
    {"p":"D4R","x":-0.181,"y":-0.184,"ey":0.01,"ex":0.004,"c":"p"},
    {"p":"D4R","x":-0.15,"y":-0.19,"ey":0.06,"ex":0.004,"c":"o"},
    {"p":"D4R","x":-0.157,"y":-0.12,"ey":0.04,"ex":0.004,"c":"b"},
    {"p":"D4R","x":-0.116,"y":-0.184,"ey":0.01,"ex":0.004,"c":"g"},
    {"p":"D4R","x":-0.125,"y":-0.33,"ey":0.01,"ex":0.004,"c":"r"},
    {"p":"D4R","x":-0.05,"y":-0.25,"ey":0.01,"ex":0.004,"c":"r"},
    {"p":"D4R","x":-0.037,"y":-0.276,"ey":0.04,"ex":0.004,"c":"b"},
    {"p":"D4R","x":-0.041,"y":-0.18,"ey":0.03,"ex":0.005,"c":"o"},
    {"p":"D4R","x":-0.032,"y":-0.16,"ey":0.015,"ex":0.004,"c":"r"},
    {"p":"D4R","x":-0.022,"y":-0.14,"ey":0.01,"ex":0.004,"c":"b"},
    {"p":"D4R","x":-0.013,"y":-0.12,"ey":0.01,"ex":0.005,"c":"o"},
    {"p":"D4R","x":-0.007,"y":-0.15,"ey":0.015,"ex":0.004,"c":"b"},
    {"p":"D4R","x":0.0,"y":-0.1,"ey":0.01,"ex":0.004,"c":"g"},
    {"p":"D4R","x":0.011,"y":-0.11,"ey":0.01,"ex":0.005,"c":"g"},
    {"p":"D4R","x":0.019,"y":-0.09,"ey":0.01,"ex":0.004,"c":"p"},
    {"p":"D4R","x":0.03,"y":-0.08,"ey":0.01,"ex":0.005,"c":"o"},
    {"p":"D4R","x":0.037,"y":-0.104,"ey":0.01,"ex":0.004,"c":"b"},
    {"p":"D4R","x":0.049,"y":-0.07,"ey":0.01,"ex":0.004,"c":"p"},
    {"p":"D4R","x":0.056,"y":-0.09,"ey":0.01,"ex":0.005,"c":"o"},
    {"p":"D4R","x":0.067,"y":-0.08,"ey":0.01,"ex":0.004,"c":"b"},
    {"p":"D4R","x":0.075,"y":-0.1,"ey":0.01,"ex":0.005,"c":"o"},
    {"p":"D4R","x":0.09,"y":-0.11,"ey":0.012,"ex":0.004,"c":"r"},
    {"p":"D4R","x":0.099,"y":-0.18,"ey":0.02,"ex":0.004,"c":"o"},
    {"p":"D4R","x":0.052,"y":-0.2,"ey":0.01,"ex":0.004,"c":"n"},
    {"p":"D4R","x":0.034,"y":-0.12,"ey":0.01,"ex":0.004,"c":"r"},
    {"p":"D4R","x":0.062,"y":-0.11,"ey":0.01,"ex":0.005,"c":"p"},
    {"p":"D4R","x":0.019,"y":-0.13,"ey":0.01,"ex":0.005,"c":"o"}
  ]},
  "spacing": -12,
  "hconcat": [
    {
      "spacing": 62,
      "vconcat": [
        {
          "data": {"values": [{}]}, "width": 71, "height": 96,
          "layer": [
            {"mark": {"type": "rule", "color": "#4a58a4", "strokeWidth": 1.5}, "encoding": {"x": {"datum": -0.183, "scale": {"domain": [0, 1]}, "axis": null}, "x2": {"datum": 1}, "y": {"datum": 0, "scale": {"domain": [0, 1]}, "axis": null}}},
            {"mark": {"type": "text", "text": "YPD", "font": "Liberation Sans", "fontSize": 30, "color": "#34449c", "baseline": "alphabetic"}, "encoding": {"x": {"datum": 0.366, "scale": {"domain": [0, 1]}, "axis": null}, "y": {"datum": 0.432, "scale": {"domain": [0, 1]}, "axis": null}}},
            {"mark": {"type": "text", "text": "30°C", "font": "Liberation Sans", "fontSize": 30, "color": "#34449c", "baseline": "alphabetic"}, "encoding": {"x": {"datum": 0.366, "scale": {"domain": [0, 1]}, "axis": null}, "y": {"datum": 0.078, "scale": {"domain": [0, 1]}, "axis": null}}}
          ]
        },
        {
          "spacing": 92,
          "vconcat": [
            {
              "data": {"values": [{"f": 0, "s": 0.5}, {"f": 0.97, "s": 0.23}]}, "width": 42, "height": 33,
              "mark": {"type": "line", "color": "#2f3d8f", "strokeWidth": 2},
              "encoding": {
                "x": {"field": "f", "type": "quantitative", "scale": {"domain": [0, 1]}, "axis": {"title": "Fitness", "ticks": false, "labels": false, "domainColor": "#2f3d8f", "domainWidth": 1.5, "titleColor": "#34449c", "titleFont": "Open Sans", "titleFontSize": 10, "titleFontWeight": "normal", "titlePadding": 3}},
                "y": {"field": "s", "type": "quantitative", "scale": {"domain": [0, 1]}, "axis": {"title": "s", "ticks": false, "labels": false, "grid": false, "domainColor": "#2f3d8f", "domainWidth": 1.5, "titleColor": "#34449c", "titleFont": "Open Sans", "titleFontSize": 10, "titleFontWeight": "normal", "titleAngle": 0, "titleAlign": "right", "titleBaseline": "middle", "titleY": 16.5, "titlePadding": 5}}
              }
            },
            {
              "data": {"values": [{"f": 0, "s": 0.5}, {"f": 0.97, "s": 0.5}]}, "width": 42, "height": 33,
              "mark": {"type": "line", "color": "#2f3d8f", "strokeWidth": 2},
              "encoding": {
                "x": {"field": "f", "type": "quantitative", "scale": {"domain": [0, 1]}, "axis": {"title": "Fitness", "ticks": false, "labels": false, "domainColor": "#2f3d8f", "domainWidth": 1.5, "titleColor": "#34449c", "titleFont": "Open Sans", "titleFontSize": 10, "titleFontWeight": "normal", "titlePadding": 3}},
                "y": {"field": "s", "type": "quantitative", "scale": {"domain": [0, 1]}, "axis": {"title": "s", "ticks": false, "labels": false, "grid": false, "domainColor": "#2f3d8f", "domainWidth": 1.5, "titleColor": "#34449c", "titleFont": "Open Sans", "titleFontSize": 10, "titleFontWeight": "normal", "titleAngle": 0, "titleAlign": "right", "titleBaseline": "middle", "titleY": 16.5, "titlePadding": 5}}
              }
            },
            {
              "data": {"values": [{"f": 0, "s": 0.5}, {"f": 0.97, "s": 0.76}]}, "width": 42, "height": 33,
              "mark": {"type": "line", "color": "#2f3d8f", "strokeWidth": 2},
              "encoding": {
                "x": {"field": "f", "type": "quantitative", "scale": {"domain": [0, 1]}, "axis": {"title": "Fitness", "ticks": false, "labels": false, "domainColor": "#2f3d8f", "domainWidth": 1.5, "titleColor": "#34449c", "titleFont": "Open Sans", "titleFontSize": 10, "titleFontWeight": "normal", "titlePadding": 3}},
                "y": {"field": "s", "type": "quantitative", "scale": {"domain": [0, 1]}, "axis": {"title": "s", "ticks": false, "labels": false, "grid": false, "domainColor": "#2f3d8f", "domainWidth": 1.5, "titleColor": "#34449c", "titleFont": "Open Sans", "titleFontSize": 10, "titleFontWeight": "normal", "titleAngle": 0, "titleAlign": "right", "titleBaseline": "middle", "titleY": 16.5, "titlePadding": 5}}
              }
            }
          ]
        }
      ]
    },
    {
      "spacing": 20,
      "center": true,
      "vconcat": [
        {
          "spacing": 18,
          "center": true,
          "vconcat": [
            {
              "data": {"values": [{}]}, "width": 143, "height": 39,
              "layer": [
                {"mark": {"type": "rule", "color": "#111", "strokeWidth": 1.5}, "encoding": {"y": {"datum": 0, "scale": {"domain": [0, 1]}, "axis": null}}},
                {"mark": {"type": "text", "text": "SC 37°C", "font": "Open Sans", "fontSize": 31, "color": "#111", "baseline": "alphabetic"}, "encoding": {"x": {"datum": 0.5, "scale": {"domain": [0, 1]}, "axis": null}, "y": {"datum": 0.18, "scale": {"domain": [0, 1]}, "axis": null}}}
              ]
            },
            {
              "spacing": 129,
              "hconcat": [
                {
                  "data": {"values": [{"f": 0, "s": 0.5}, {"f": 0.95, "s": 0.26}]}, "width": 42, "height": 34,
                  "mark": {"type": "line", "color": "#111", "strokeWidth": 1.6},
                  "encoding": {
                    "x": {"field": "f", "type": "quantitative", "scale": {"domain": [0, 1]}, "axis": {"title": "Fitness", "ticks": false, "labels": false, "domainColor": "#111", "domainWidth": 1.2, "titleColor": "#222", "titleFont": "Open Sans", "titleFontSize": 9, "titleFontWeight": "normal", "titlePadding": 3}},
                    "y": {"field": "s", "type": "quantitative", "scale": {"domain": [0, 1]}, "axis": {"title": "s", "ticks": false, "labels": false, "grid": false, "domainColor": "#111", "domainWidth": 1.2, "titleColor": "#222", "titleFont": "Open Sans", "titleFontSize": 9, "titleFontWeight": "normal", "titleAngle": 0, "titleAlign": "right", "titleBaseline": "middle", "titleY": 17, "titlePadding": 4}}
                  }
                },
                {
                  "data": {"values": [{"f": 0, "s": 0.5}, {"f": 0.95, "s": 0.5}]}, "width": 42, "height": 34,
                  "mark": {"type": "line", "color": "#111", "strokeWidth": 1.6},
                  "encoding": {
                    "x": {"field": "f", "type": "quantitative", "scale": {"domain": [0, 1]}, "axis": {"title": "Fitness", "ticks": false, "labels": false, "domainColor": "#111", "domainWidth": 1.2, "titleColor": "#222", "titleFont": "Open Sans", "titleFontSize": 9, "titleFontWeight": "normal", "titlePadding": 3}},
                    "y": {"field": "s", "type": "quantitative", "scale": {"domain": [0, 1]}, "axis": {"title": "s", "ticks": false, "labels": false, "grid": false, "domainColor": "#111", "domainWidth": 1.2, "titleColor": "#222", "titleFont": "Open Sans", "titleFontSize": 9, "titleFontWeight": "normal", "titleAngle": 0, "titleAlign": "right", "titleBaseline": "middle", "titleY": 17, "titlePadding": 4}}
                  }
                },
                {
                  "data": {"values": [{"f": 0, "s": 0.5}, {"f": 0.95, "s": 0.74}]}, "width": 42, "height": 34,
                  "mark": {"type": "line", "color": "#111", "strokeWidth": 1.6},
                  "encoding": {
                    "x": {"field": "f", "type": "quantitative", "scale": {"domain": [0, 1]}, "axis": {"title": "Fitness", "ticks": false, "labels": false, "domainColor": "#111", "domainWidth": 1.2, "titleColor": "#222", "titleFont": "Open Sans", "titleFontSize": 9, "titleFontWeight": "normal", "titlePadding": 3}},
                    "y": {"field": "s", "type": "quantitative", "scale": {"domain": [0, 1]}, "axis": {"title": "s", "ticks": false, "labels": false, "grid": false, "domainColor": "#111", "domainWidth": 1.2, "titleColor": "#222", "titleFont": "Open Sans", "titleFontSize": 9, "titleFontWeight": "normal", "titleAngle": 0, "titleAlign": "right", "titleBaseline": "middle", "titleY": 17, "titlePadding": 4}}
                  }
                }
              ]
            }
          ]
        },
        {
          "spacing": 0,
          "hconcat": [
            {
              "spacing": 12.5,
              "center": true,
              "vconcat": [
                {
                  "title": {"text": "in SPT8", "offset": 4},
                  "vconcat": [{
                    "title": {"text": "14/78 (18%) examples", "orient": "bottom", "fontSize": 11.5, "offset": 11},
                    "spacing": 7,
                    "hconcat": [
                      {"width": 60, "height": 64, "transform": [{"filter": "datum.p=='S8L'"}],
                       "encoding": {"x": {"field": "x", "type": "quantitative", "scale": {"domain": [-0.12, 0.065], "nice": false}, "axis": {"title": null, "values": [-0.1, 0], "format": ".1f"}},
                                    "y": {"field": "y", "type": "quantitative", "scale": {"domain": [-0.21, 0.005], "nice": false}, "axis": {"title": null, "values": [0, -0.1, -0.2], "format": ".1f"}},
                                    "color": {"field": "c", "type": "nominal", "scale": {"domain": ["b","o","g","r","p","n"], "range": ["#0173b2","#de8f05","#029e73","#d55e00","#cc78bc","#ca9161"]}, "legend": null}},
                       "layer": [{"mark": {"type": "errorbar", "opacity": 0.45, "thickness": 1.3}, "encoding": {"yError": {"field": "ey"}}}, {"mark": {"type": "errorbar", "opacity": 0.45, "thickness": 1.3}, "encoding": {"xError": {"field": "ex"}}}, {"mark": {"type": "point", "filled": true, "size": 8, "opacity": 1}}]},
                      {"width": 61, "height": 64, "transform": [{"filter": "datum.p=='S8R'"}],
                       "encoding": {"x": {"field": "x", "type": "quantitative", "scale": {"domain": [-0.19, 0.11], "nice": false}, "axis": {"title": null, "values": [-0.1, 0, 0.1], "format": ".1f", "domainColor": "#222", "tickColor": "#222", "labelColor": "#444"}},
                                    "y": {"field": "y", "type": "quantitative", "scale": {"domain": [-0.21, 0.005], "nice": false}, "axis": {"title": null, "values": [0, -0.1, -0.2], "labels": false, "domainColor": "#222", "tickColor": "#222"}},
                                    "color": {"field": "c", "type": "nominal", "scale": {"domain": ["b","o","g","r","p","n"], "range": ["#0173b2","#de8f05","#029e73","#d55e00","#cc78bc","#ca9161"]}, "legend": null}},
                       "layer": [{"mark": {"type": "errorbar", "opacity": 0.45, "thickness": 1.3}, "encoding": {"yError": {"field": "ey"}}}, {"mark": {"type": "errorbar", "opacity": 0.45, "thickness": 1.3}, "encoding": {"xError": {"field": "ex"}}}, {"mark": {"type": "point", "filled": true, "size": 8, "opacity": 1}}]}
                    ]
                  }]
                },
                {"data": {"values": [{}]}, "width": 167, "height": 1, "mark": {"type": "rule", "color": "#a0a0a0"}, "encoding": {"y": {"datum": 0, "scale": {"domain": [0, 1]}, "axis": null}}},
                {
                  "title": {"text": "in ADE5,7", "offset": 4},
                  "vconcat": [{
                    "title": {"text": "4/78 (5%) examples", "orient": "bottom", "fontSize": 11.5, "offset": 11},
                    "spacing": 7,
                    "hconcat": [
                      {"width": 60, "height": 64, "transform": [{"filter": "datum.p=='A5L'"}],
                       "encoding": {"x": {"field": "x", "type": "quantitative", "scale": {"domain": [-0.117, 0.06], "nice": false}, "axis": {"title": null, "values": [-0.1, 0], "format": ".1f"}},
                                    "y": {"field": "y", "type": "quantitative", "scale": {"domain": [-0.085, 0.097], "nice": false}, "axis": {"title": null, "values": [0.05, 0, -0.05], "format": ".2f"}},
                                    "color": {"field": "c", "type": "nominal", "scale": {"domain": ["b","o","g","r","p","n"], "range": ["#0173b2","#de8f05","#029e73","#d55e00","#cc78bc","#ca9161"]}, "legend": null}},
                       "layer": [{"mark": {"type": "errorbar", "opacity": 0.45, "thickness": 1.3}, "encoding": {"yError": {"field": "ey"}}}, {"mark": {"type": "errorbar", "opacity": 0.45, "thickness": 1.3}, "encoding": {"xError": {"field": "ex"}}}, {"mark": {"type": "point", "filled": true, "size": 8, "opacity": 1}}]},
                      {"width": 61, "height": 64, "transform": [{"filter": "datum.p=='A5R'"}],
                       "encoding": {"x": {"field": "x", "type": "quantitative", "scale": {"domain": [-0.215, 0.127], "nice": false}, "axis": {"title": null, "values": [-0.2, 0], "format": ".1f", "domainColor": "#222", "tickColor": "#222", "labelColor": "#444"}},
                                    "y": {"field": "y", "type": "quantitative", "scale": {"domain": [-0.085, 0.097], "nice": false}, "axis": {"title": null, "values": [0.05, 0, -0.05], "labels": false, "domainColor": "#222", "tickColor": "#222"}},
                                    "color": {"field": "c", "type": "nominal", "scale": {"domain": ["b","o","g","r","p","n"], "range": ["#0173b2","#de8f05","#029e73","#d55e00","#cc78bc","#ca9161"]}, "legend": null}},
                       "layer": [{"mark": {"type": "errorbar", "opacity": 0.45, "thickness": 1.3}, "encoding": {"yError": {"field": "ey"}}}, {"mark": {"type": "errorbar", "opacity": 0.45, "thickness": 1.3}, "encoding": {"xError": {"field": "ex"}}}, {"mark": {"type": "point", "filled": true, "size": 8, "opacity": 1}}]}
                    ]
                  }]
                },
                {"data": {"values": [{}]}, "width": 167, "height": 1, "mark": {"type": "rule", "color": "#a0a0a0"}, "encoding": {"y": {"datum": 0, "scale": {"domain": [0, 1]}, "axis": null}}},
                {"data": {"values": [{"t": "0 examples"}]}, "width": 167, "height": 90,
                 "mark": {"type": "text", "font": "DejaVu Serif", "fontSize": 11.5, "color": "#222", "dx": 6},
                 "encoding": {"text": {"field": "t"}, "x": {"datum": 0.5, "scale": {"domain": [0, 1]}, "axis": null}, "y": {"datum": 0.5, "scale": {"domain": [0, 1]}, "axis": null}}}
              ]
            },
            {"data": {"values": [{}]}, "width": 1, "height": 421, "mark": {"type": "rule", "color": "#a0a0a0"}, "encoding": {"x": {"datum": 0, "scale": {"domain": [0, 1]}, "axis": null}}},
            {
              "spacing": 12.5,
              "center": true,
              "vconcat": [
                {
                  "title": {"text": "in GPP1", "offset": 4},
                  "vconcat": [{
                    "title": {"text": "15/78 (19%) examples", "orient": "bottom", "fontSize": 11.5, "offset": 11},
                    "spacing": 7,
                    "hconcat": [
                      {"width": 60, "height": 64, "transform": [{"filter": "datum.p=='G1L'"}],
                       "encoding": {"x": {"field": "x", "type": "quantitative", "scale": {"domain": [-0.11, 0.07], "nice": false}, "axis": {"title": null, "values": [-0.1, 0], "format": ".1f"}},
                                    "y": {"field": "y", "type": "quantitative", "scale": {"domain": [-0.145, 0.006], "nice": false}, "axis": {"title": null, "values": [0, -0.05, -0.1], "format": ".2f"}},
                                    "color": {"field": "c", "type": "nominal", "scale": {"domain": ["b","o","g","r","p","n"], "range": ["#0173b2","#de8f05","#029e73","#d55e00","#cc78bc","#ca9161"]}, "legend": null}},
                       "layer": [{"mark": {"type": "errorbar", "opacity": 0.45, "thickness": 1.3}, "encoding": {"yError": {"field": "ey"}}}, {"mark": {"type": "errorbar", "opacity": 0.45, "thickness": 1.3}, "encoding": {"xError": {"field": "ex"}}}, {"mark": {"type": "point", "filled": true, "size": 8, "opacity": 1}}]},
                      {"width": 61, "height": 64, "transform": [{"filter": "datum.p=='G1R'"}],
                       "encoding": {"x": {"field": "x", "type": "quantitative", "scale": {"domain": [-0.22, 0.12], "nice": false}, "axis": {"title": null, "values": [-0.2, 0], "format": ".1f", "domainColor": "#222", "tickColor": "#222", "labelColor": "#444"}},
                                    "y": {"field": "y", "type": "quantitative", "scale": {"domain": [-0.145, 0.006], "nice": false}, "axis": {"title": null, "values": [0, -0.05, -0.1], "labels": false, "domainColor": "#222", "tickColor": "#222"}},
                                    "color": {"field": "c", "type": "nominal", "scale": {"domain": ["b","o","g","r","p","n"], "range": ["#0173b2","#de8f05","#029e73","#d55e00","#cc78bc","#ca9161"]}, "legend": null}},
                       "layer": [{"mark": {"type": "errorbar", "opacity": 0.45, "thickness": 1.3}, "encoding": {"yError": {"field": "ey"}}}, {"mark": {"type": "errorbar", "opacity": 0.45, "thickness": 1.3}, "encoding": {"xError": {"field": "ex"}}}, {"mark": {"type": "point", "filled": true, "size": 8, "opacity": 1}}]}
                    ]
                  }]
                },
                {"data": {"values": [{}]}, "width": 182, "height": 1, "mark": {"type": "rule", "color": "#a0a0a0"}, "encoding": {"y": {"datum": 0, "scale": {"domain": [0, 1]}, "axis": null}}},
                {
                  "title": {"text": "in OXA1", "offset": 4},
                  "vconcat": [{
                    "title": {"text": "18/78 (23%) examples", "orient": "bottom", "fontSize": 11.5, "offset": 11},
                    "spacing": 7,
                    "hconcat": [
                      {"width": 60, "height": 64, "transform": [{"filter": "datum.p=='O1L'"}],
                       "encoding": {"x": {"field": "x", "type": "quantitative", "scale": {"domain": [-0.112, 0.065], "nice": false}, "axis": {"title": null, "values": [-0.1, 0], "format": ".1f"}},
                                    "y": {"field": "y", "type": "quantitative", "scale": {"domain": [-0.215, 0.028], "nice": false}, "axis": {"title": null, "values": [0, -0.1, -0.2], "format": ".1f"}},
                                    "color": {"field": "c", "type": "nominal", "scale": {"domain": ["b","o","g","r","p","n"], "range": ["#0173b2","#de8f05","#029e73","#d55e00","#cc78bc","#ca9161"]}, "legend": null}},
                       "layer": [{"mark": {"type": "errorbar", "opacity": 0.45, "thickness": 1.3}, "encoding": {"yError": {"field": "ey"}}}, {"mark": {"type": "errorbar", "opacity": 0.45, "thickness": 1.3}, "encoding": {"xError": {"field": "ex"}}}, {"mark": {"type": "point", "filled": true, "size": 8, "opacity": 1}}]},
                      {"width": 61, "height": 64, "transform": [{"filter": "datum.p=='O1R'"}],
                       "encoding": {"x": {"field": "x", "type": "quantitative", "scale": {"domain": [-0.21, 0.113], "nice": false}, "axis": {"title": null, "values": [-0.2, 0], "format": ".1f", "domainColor": "#222", "tickColor": "#222", "labelColor": "#444"}},
                                    "y": {"field": "y", "type": "quantitative", "scale": {"domain": [-0.215, 0.028], "nice": false}, "axis": {"title": null, "values": [0, -0.1, -0.2], "labels": false, "domainColor": "#222", "tickColor": "#222"}},
                                    "color": {"field": "c", "type": "nominal", "scale": {"domain": ["b","o","g","r","p","n"], "range": ["#0173b2","#de8f05","#029e73","#d55e00","#cc78bc","#ca9161"]}, "legend": null}},
                       "layer": [{"mark": {"type": "errorbar", "opacity": 0.45, "thickness": 1.3}, "encoding": {"yError": {"field": "ey"}}}, {"mark": {"type": "errorbar", "opacity": 0.45, "thickness": 1.3}, "encoding": {"xError": {"field": "ex"}}}, {"mark": {"type": "point", "filled": true, "size": 8, "opacity": 1}}]}
                    ]
                  }]
                },
                {"data": {"values": [{}]}, "width": 182, "height": 1, "mark": {"type": "rule", "color": "#a0a0a0"}, "encoding": {"y": {"datum": 0, "scale": {"domain": [0, 1]}, "axis": null}}},
                {
                  "title": {"text": "in STM1", "offset": 4},
                  "vconcat": [{
                    "title": {"text": "3/78 (4%) examples", "orient": "bottom", "fontSize": 11.5, "offset": 11},
                    "spacing": 7,
                    "hconcat": [
                      {"width": 60, "height": 64, "transform": [{"filter": "datum.p=='M1L'"}],
                       "encoding": {"x": {"field": "x", "type": "quantitative", "scale": {"domain": [-0.119, 0.062], "nice": false}, "axis": {"title": null, "values": [-0.1, 0], "format": ".1f"}},
                                    "y": {"field": "y", "type": "quantitative", "scale": {"domain": [-0.116, 0.056], "nice": false}, "axis": {"title": null, "values": [0.05, 0, -0.05, -0.1], "format": ".2f"}},
                                    "color": {"field": "c", "type": "nominal", "scale": {"domain": ["b","o","g","r","p","n"], "range": ["#0173b2","#de8f05","#029e73","#d55e00","#cc78bc","#ca9161"]}, "legend": null}},
                       "layer": [{"mark": {"type": "errorbar", "opacity": 0.45, "thickness": 1.3}, "encoding": {"yError": {"field": "ey"}}}, {"mark": {"type": "errorbar", "opacity": 0.45, "thickness": 1.3}, "encoding": {"xError": {"field": "ex"}}}, {"mark": {"type": "point", "filled": true, "size": 8, "opacity": 1}}]},
                      {"width": 61, "height": 64, "transform": [{"filter": "datum.p=='M1R'"}],
                       "encoding": {"x": {"field": "x", "type": "quantitative", "scale": {"domain": [-0.219, 0.118], "nice": false}, "axis": {"title": null, "values": [-0.2, 0], "format": ".1f", "domainColor": "#222", "tickColor": "#222", "labelColor": "#444"}},
                                    "y": {"field": "y", "type": "quantitative", "scale": {"domain": [-0.116, 0.056], "nice": false}, "axis": {"title": null, "values": [0.05, 0, -0.05, -0.1], "labels": false, "domainColor": "#222", "tickColor": "#222"}},
                                    "color": {"field": "c", "type": "nominal", "scale": {"domain": ["b","o","g","r","p","n"], "range": ["#0173b2","#de8f05","#029e73","#d55e00","#cc78bc","#ca9161"]}, "legend": null}},
                       "layer": [{"mark": {"type": "errorbar", "opacity": 0.45, "thickness": 1.3}, "encoding": {"yError": {"field": "ey"}}}, {"mark": {"type": "errorbar", "opacity": 0.45, "thickness": 1.3}, "encoding": {"xError": {"field": "ex"}}}, {"mark": {"type": "point", "filled": true, "size": 8, "opacity": 1}}]}
                    ]
                  }]
                }
              ]
            },
            {"data": {"values": [{}]}, "width": 1, "height": 421, "mark": {"type": "rule", "color": "#a0a0a0"}, "encoding": {"x": {"datum": 0, "scale": {"domain": [0, 1]}, "axis": null}}},
            {
              "spacing": 12.5,
              "center": true,
              "vconcat": [
                {
                  "title": {"text": "in STE24", "offset": 4},
                  "vconcat": [{
                    "title": {"text": "3/78 (4%) examples", "orient": "bottom", "fontSize": 11.5, "offset": 11},
                    "spacing": 7,
                    "hconcat": [
                      {"width": 60, "height": 64, "transform": [{"filter": "datum.p=='S24L'"}],
                       "encoding": {"x": {"field": "x", "type": "quantitative", "scale": {"domain": [-0.117, 0.066], "nice": false}, "axis": {"title": null, "values": [-0.1, 0], "format": ".1f"}},
                                    "y": {"field": "y", "type": "quantitative", "scale": {"domain": [-0.162, 0.008], "nice": false}, "axis": {"title": null, "values": [0, -0.05, -0.1, -0.15], "format": ".2f"}},
                                    "color": {"field": "c", "type": "nominal", "scale": {"domain": ["b","o","g","r","p","n"], "range": ["#0173b2","#de8f05","#029e73","#d55e00","#cc78bc","#ca9161"]}, "legend": null}},
                       "layer": [{"mark": {"type": "errorbar", "opacity": 0.45, "thickness": 1.3}, "encoding": {"yError": {"field": "ey"}}}, {"mark": {"type": "errorbar", "opacity": 0.45, "thickness": 1.3}, "encoding": {"xError": {"field": "ex"}}}, {"mark": {"type": "point", "filled": true, "size": 8, "opacity": 1}}]},
                      {"width": 61, "height": 64, "transform": [{"filter": "datum.p=='S24R'"}],
                       "encoding": {"x": {"field": "x", "type": "quantitative", "scale": {"domain": [-0.228, 0.118], "nice": false}, "axis": {"title": null, "values": [-0.2, 0], "format": ".1f", "domainColor": "#222", "tickColor": "#222", "labelColor": "#444"}},
                                    "y": {"field": "y", "type": "quantitative", "scale": {"domain": [-0.162, 0.008], "nice": false}, "axis": {"title": null, "values": [0, -0.05, -0.1, -0.15], "labels": false, "domainColor": "#222", "tickColor": "#222"}},
                                    "color": {"field": "c", "type": "nominal", "scale": {"domain": ["b","o","g","r","p","n"], "range": ["#0173b2","#de8f05","#029e73","#d55e00","#cc78bc","#ca9161"]}, "legend": null}},
                       "layer": [{"mark": {"type": "errorbar", "opacity": 0.45, "thickness": 1.3}, "encoding": {"yError": {"field": "ey"}}}, {"mark": {"type": "errorbar", "opacity": 0.45, "thickness": 1.3}, "encoding": {"xError": {"field": "ex"}}}, {"mark": {"type": "point", "filled": true, "size": 8, "opacity": 1}}]}
                    ]
                  }]
                },
                {"data": {"values": [{}]}, "width": 182, "height": 1, "mark": {"type": "rule", "color": "#a0a0a0"}, "encoding": {"y": {"datum": 0, "scale": {"domain": [0, 1]}, "axis": null}}},
                {
                  "title": {"text": "in SSK1", "offset": 4},
                  "vconcat": [{
                    "title": {"text": "15/78 (19%) examples", "orient": "bottom", "fontSize": 11.5, "offset": 11},
                    "spacing": 7,
                    "hconcat": [
                      {"width": 60, "height": 64, "transform": [{"filter": "datum.p=='K1L'"}],
                       "encoding": {"x": {"field": "x", "type": "quantitative", "scale": {"domain": [-0.117, 0.063], "nice": false}, "axis": {"title": null, "values": [-0.1, 0], "format": ".1f"}},
                                    "y": {"field": "y", "type": "quantitative", "scale": {"domain": [-0.205, 0.017], "nice": false}, "axis": {"title": null, "values": [0, -0.1, -0.2], "format": ".1f"}},
                                    "color": {"field": "c", "type": "nominal", "scale": {"domain": ["b","o","g","r","p","n"], "range": ["#0173b2","#de8f05","#029e73","#d55e00","#cc78bc","#ca9161"]}, "legend": null}},
                       "layer": [{"mark": {"type": "errorbar", "opacity": 0.45, "thickness": 1.3}, "encoding": {"yError": {"field": "ey"}}}, {"mark": {"type": "errorbar", "opacity": 0.45, "thickness": 1.3}, "encoding": {"xError": {"field": "ex"}}}, {"mark": {"type": "point", "filled": true, "size": 8, "opacity": 1}}]},
                      {"width": 61, "height": 64, "transform": [{"filter": "datum.p=='K1R'"}],
                       "encoding": {"x": {"field": "x", "type": "quantitative", "scale": {"domain": [-0.228, 0.118], "nice": false}, "axis": {"title": null, "values": [-0.2, 0], "format": ".1f", "domainColor": "#222", "tickColor": "#222", "labelColor": "#444"}},
                                    "y": {"field": "y", "type": "quantitative", "scale": {"domain": [-0.205, 0.017], "nice": false}, "axis": {"title": null, "values": [0, -0.1, -0.2], "labels": false, "domainColor": "#222", "tickColor": "#222"}},
                                    "color": {"field": "c", "type": "nominal", "scale": {"domain": ["b","o","g","r","p","n"], "range": ["#0173b2","#de8f05","#029e73","#d55e00","#cc78bc","#ca9161"]}, "legend": null}},
                       "layer": [{"mark": {"type": "errorbar", "opacity": 0.45, "thickness": 1.3}, "encoding": {"yError": {"field": "ey"}}}, {"mark": {"type": "errorbar", "opacity": 0.45, "thickness": 1.3}, "encoding": {"xError": {"field": "ex"}}}, {"mark": {"type": "point", "filled": true, "size": 8, "opacity": 1}}]}
                    ]
                  }]
                },
                {"data": {"values": [{}]}, "width": 182, "height": 1, "mark": {"type": "rule", "color": "#a0a0a0"}, "encoding": {"y": {"datum": 0, "scale": {"domain": [0, 1]}, "axis": null}}},
                {
                  "title": {"text": "in DPB4", "offset": 4},
                  "vconcat": [{
                    "title": {"text": "6/78 (8%) examples", "orient": "bottom", "fontSize": 11.5, "offset": 11},
                    "spacing": 7,
                    "hconcat": [
                      {"width": 60, "height": 64, "transform": [{"filter": "datum.p=='D4L'"}],
                       "encoding": {"x": {"field": "x", "type": "quantitative", "scale": {"domain": [-0.118, 0.07], "nice": false}, "axis": {"title": null, "values": [-0.1, 0], "format": ".1f"}},
                                    "y": {"field": "y", "type": "quantitative", "scale": {"domain": [-0.37, 0.016], "nice": false}, "axis": {"title": null, "values": [0, -0.1, -0.2, -0.3], "format": ".1f"}},
                                    "color": {"field": "c", "type": "nominal", "scale": {"domain": ["b","o","g","r","p","n"], "range": ["#0173b2","#de8f05","#029e73","#d55e00","#cc78bc","#ca9161"]}, "legend": null}},
                       "layer": [{"mark": {"type": "errorbar", "opacity": 0.45, "thickness": 1.3}, "encoding": {"yError": {"field": "ey"}}}, {"mark": {"type": "errorbar", "opacity": 0.45, "thickness": 1.3}, "encoding": {"xError": {"field": "ex"}}}, {"mark": {"type": "point", "filled": true, "size": 8, "opacity": 1}}]},
                      {"width": 61, "height": 64, "transform": [{"filter": "datum.p=='D4R'"}],
                       "encoding": {"x": {"field": "x", "type": "quantitative", "scale": {"domain": [-0.228, 0.118], "nice": false}, "axis": {"title": null, "values": [-0.2, 0], "format": ".1f", "domainColor": "#222", "tickColor": "#222", "labelColor": "#444"}},
                                    "y": {"field": "y", "type": "quantitative", "scale": {"domain": [-0.37, 0.016], "nice": false}, "axis": {"title": null, "values": [0, -0.1, -0.2, -0.3], "labels": false, "domainColor": "#222", "tickColor": "#222"}},
                                    "color": {"field": "c", "type": "nominal", "scale": {"domain": ["b","o","g","r","p","n"], "range": ["#0173b2","#de8f05","#029e73","#d55e00","#cc78bc","#ca9161"]}, "legend": null}},
                       "layer": [{"mark": {"type": "errorbar", "opacity": 0.45, "thickness": 1.3}, "encoding": {"yError": {"field": "ey"}}}, {"mark": {"type": "errorbar", "opacity": 0.45, "thickness": 1.3}, "encoding": {"xError": {"field": "ex"}}}, {"mark": {"type": "point", "filled": true, "size": 8, "opacity": 1}}]}
                    ]
                  }]
                }
              ]
            }
          ]
        }
      ]
    }
  ]
}
